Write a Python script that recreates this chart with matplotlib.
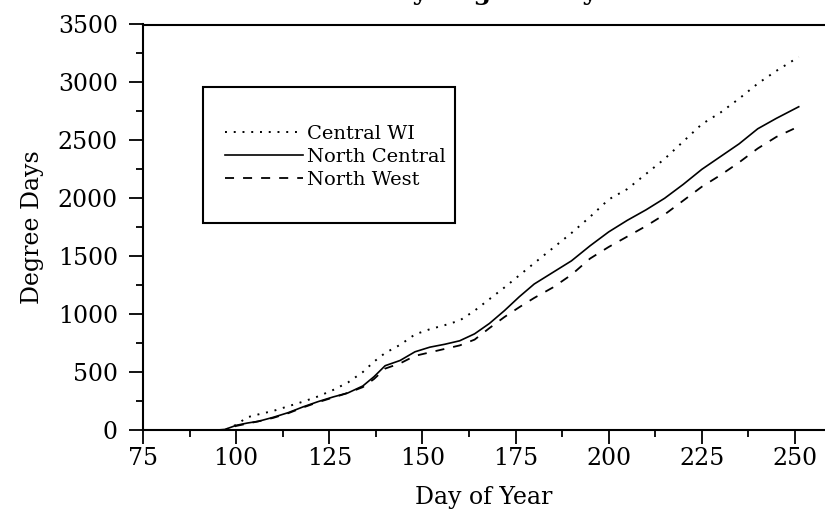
import matplotlib.pyplot as plt
from matplotlib.patches import Rectangle
from matplotlib.ticker import MultipleLocator

plt.rcParams['font.family'] = ['DejaVu Serif']

days = [95, 97, 100, 103, 106, 110, 114, 118, 122, 126, 130, 134, 137, 140,
        144, 148, 152, 156, 160, 164, 168, 172, 176, 180, 185, 190, 195, 200,
        205, 210, 215, 220, 225, 230, 235, 240, 245, 251]

central_wi = [0, 0, 45, 110, 135, 165, 205, 245, 290, 345, 410, 500, 590, 665,
              735, 825, 870, 905, 945, 1030, 1130, 1230, 1335, 1440, 1570, 1700,
              1840, 1990, 2080, 2210, 2340, 2490, 2640, 2740, 2860, 2990, 3100, 3220]

north_central = [0, 5, 40, 60, 75, 110, 150, 200, 245, 285, 320, 380, 460, 555,
                 600, 675, 715, 740, 770, 830, 920, 1030, 1150, 1260, 1360, 1460,
                 1590, 1710, 1810, 1900, 2000, 2120, 2250, 2360, 2470, 2600, 2690, 2790]

north_west = [0, 0, 35, 55, 75, 105, 145, 195, 240, 280, 320, 370, 440, 530,
              575, 640, 670, 700, 730, 780, 880, 975, 1060, 1140, 1230, 1340,
              1480, 1580, 1670, 1760, 1860, 1980, 2100, 2200, 2310, 2430, 2530, 2620]

fig = plt.figure(figsize=(8.25, 5.27), dpi=100)
ax = fig.add_axes([143 / 825, 1 - 430 / 527, 1 - 143 / 825, (430 - 24.5) / 527])

ax.plot(days, central_wi, color='black', lw=1.4, linestyle=(0, (1, 3.5)), label='Central WI')
ax.plot(days, north_central, color='black', lw=1.2, label='North Central')
ax.plot(days, north_west, color='black', lw=1.3, linestyle=(0, (5, 5)), label='North West')

ax.set_xlim(75, 75 + 682 / (652 / 175))
ax.set_ylim(0, 3500)
ax.xaxis.set_major_locator(MultipleLocator(25))
ax.xaxis.set_minor_locator(MultipleLocator(12.5))
ax.yaxis.set_major_locator(MultipleLocator(500))
ax.yaxis.set_minor_locator(MultipleLocator(250))
ax.tick_params(which='major', length=10, width=1.3, labelsize=17, direction='out')
ax.tick_params(axis='y', which='major', pad=8)
ax.tick_params(axis='x', which='major', pad=2)
ax.tick_params(which='minor', length=5, width=1.3, direction='out')

for s in ['left', 'bottom', 'top']:
    ax.spines[s].set_linewidth(1.5)
ax.spines['right'].set_visible(False)

ax.set_xlabel('Day of Year', fontsize=17, labelpad=12)
ax.set_ylabel('Degree Days', fontsize=17, labelpad=10)

fig.text(484 / 825, 1.0, 'Daily Degree Days', ha='center', va='baseline',
         fontsize=18, fontweight='bold')

fig.add_artist(Rectangle((203 / 825, 1 - 223 / 527), 252 / 825, 136 / 527,
                         transform=fig.transFigure, fill=False, lw=1.5, color='black'))
ax.legend(loc='upper left', bbox_to_anchor=(225 / 825, 1 - 125 / 527),
          bbox_transform=fig.transFigure, frameon=False, fontsize=14,
          handlelength=4.0, handletextpad=0.2, labelspacing=0.25, borderpad=0,
          borderaxespad=0)

fig.savefig('out.png', dpi=100)
